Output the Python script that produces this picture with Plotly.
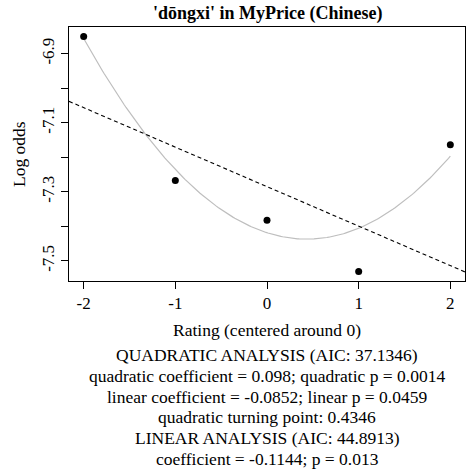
import numpy as np
import plotly.graph_objects as go

# ---- data ----
ratings = [-2, -1, 0, 1, 2]
log_odds = [-6.850, -7.267, -7.382, -7.531, -7.164]

quad_coef = 0.098
lin_coef_quad = -0.0852
quad_intercept = -7.4185

lin_slope = -0.1144
lin_intercept = -7.285

y_tick_vals = [-7.5, -7.4, -7.3, -7.2, -7.1, -7.0, -6.9]
y_tick_text = ["-7.5", "", "-7.3", "", "-7.1", "", "-6.9"]
x_tick_vals = [-2, -1, 0, 1, 2]
x_tick_text = ["-2", "-1", "0", "1", "2"]

title_text = "'dōngxi' in MyPrice (Chinese)"
x_title = "Rating (centered around 0)"
y_title = "Log odds"
notes = [
    "QUADRATIC ANALYSIS (AIC: 37.1346)",
    "quadratic coefficient = 0.098; quadratic p = 0.0014",
    "linear coefficient = -0.0852; linear p = 0.0459",
    "quadratic turning point: 0.4346",
    "LINEAR ANALYSIS (AIC: 44.8913)",
    "coefficient = -0.1144; p = 0.013",
]

FONT = "Liberation Serif, Times New Roman, serif"
TXT = 17.5

# axis ranges as R would (4% extension)
xr = [min(ratings), max(ratings)]
xpad = 0.04 * (xr[1] - xr[0])
x_range = [xr[0] - xpad, xr[1] + xpad]
yr = [min(log_odds), max(log_odds)]
ypad = 0.04 * (yr[1] - yr[0])
y_range = [yr[0] - ypad, yr[1] + ypad]

W, H = 467, 472
ML, MR, MT, MB = 69, 2, 27, 191
plot_h = H - MT - MB

fig = go.Figure()

# quadratic curve
xc = np.linspace(min(ratings), max(ratings), 200)
yc = quad_intercept + lin_coef_quad * xc + quad_coef * xc ** 2
fig.add_trace(go.Scatter(x=xc, y=yc, mode="lines",
                         line=dict(color="#BEBEBE", width=1.2),
                         hoverinfo="skip", showlegend=False))

# linear fit (abline across the whole region)
xl = np.array(x_range)
yl = lin_intercept + lin_slope * xl
fig.add_trace(go.Scatter(x=xl, y=yl, mode="lines",
                         line=dict(color="black", width=1.1, dash="4px,3px"),
                         hoverinfo="skip", showlegend=False))

# points
fig.add_trace(go.Scatter(x=ratings, y=log_odds, mode="markers",
                         marker=dict(color="black", size=7),
                         showlegend=False))

axis_common = dict(showgrid=False, zeroline=False, showline=True, linecolor="black",
                   linewidth=1, mirror=True, ticks="outside", ticklen=7,
                   tickcolor="black", tickwidth=1,
                   tickfont=dict(family=FONT, size=17, color="black"))

fig.update_xaxes(range=x_range, tickvals=x_tick_vals, ticktext=x_tick_text, **axis_common)
fig.update_yaxes(range=y_range, tickvals=y_tick_vals, ticktext=y_tick_text,
                 tickangle=-90, **axis_common)

def py2paper(py):
    return (H - MB - py) / plot_h

annotations = [
    dict(text="<b>" + title_text + "</b>", x=0.5, y=py2paper(13), xref="paper", yref="paper",
         showarrow=False, font=dict(family=FONT, size=18, color="black"),
         xanchor="center", yanchor="middle"),
    dict(text=x_title, x=0.5, y=py2paper(330), xref="paper", yref="paper",
         showarrow=False, font=dict(family=FONT, size=TXT, color="black"),
         xanchor="center", yanchor="middle"),
    dict(text=y_title, x=(19 - ML) / (W - ML - MR), y=0.5, xref="paper", yref="paper",
         showarrow=False, textangle=-90, font=dict(family=FONT, size=TXT, color="black"),
         xanchor="center", yanchor="middle"),
]
note_y = [355, 376, 397, 417, 438, 459]
for t, yy in zip(notes, note_y):
    annotations.append(dict(text=t, x=0.5, y=py2paper(yy), xref="paper", yref="paper",
                            showarrow=False, font=dict(family=FONT, size=TXT, color="black"),
                            xanchor="center", yanchor="middle"))

fig.update_layout(width=W, height=H, margin=dict(l=ML, r=MR, t=MT, b=MB),
                  plot_bgcolor="white", paper_bgcolor="white",
                  annotations=annotations, showlegend=False)

fig.write_html("out.html")
